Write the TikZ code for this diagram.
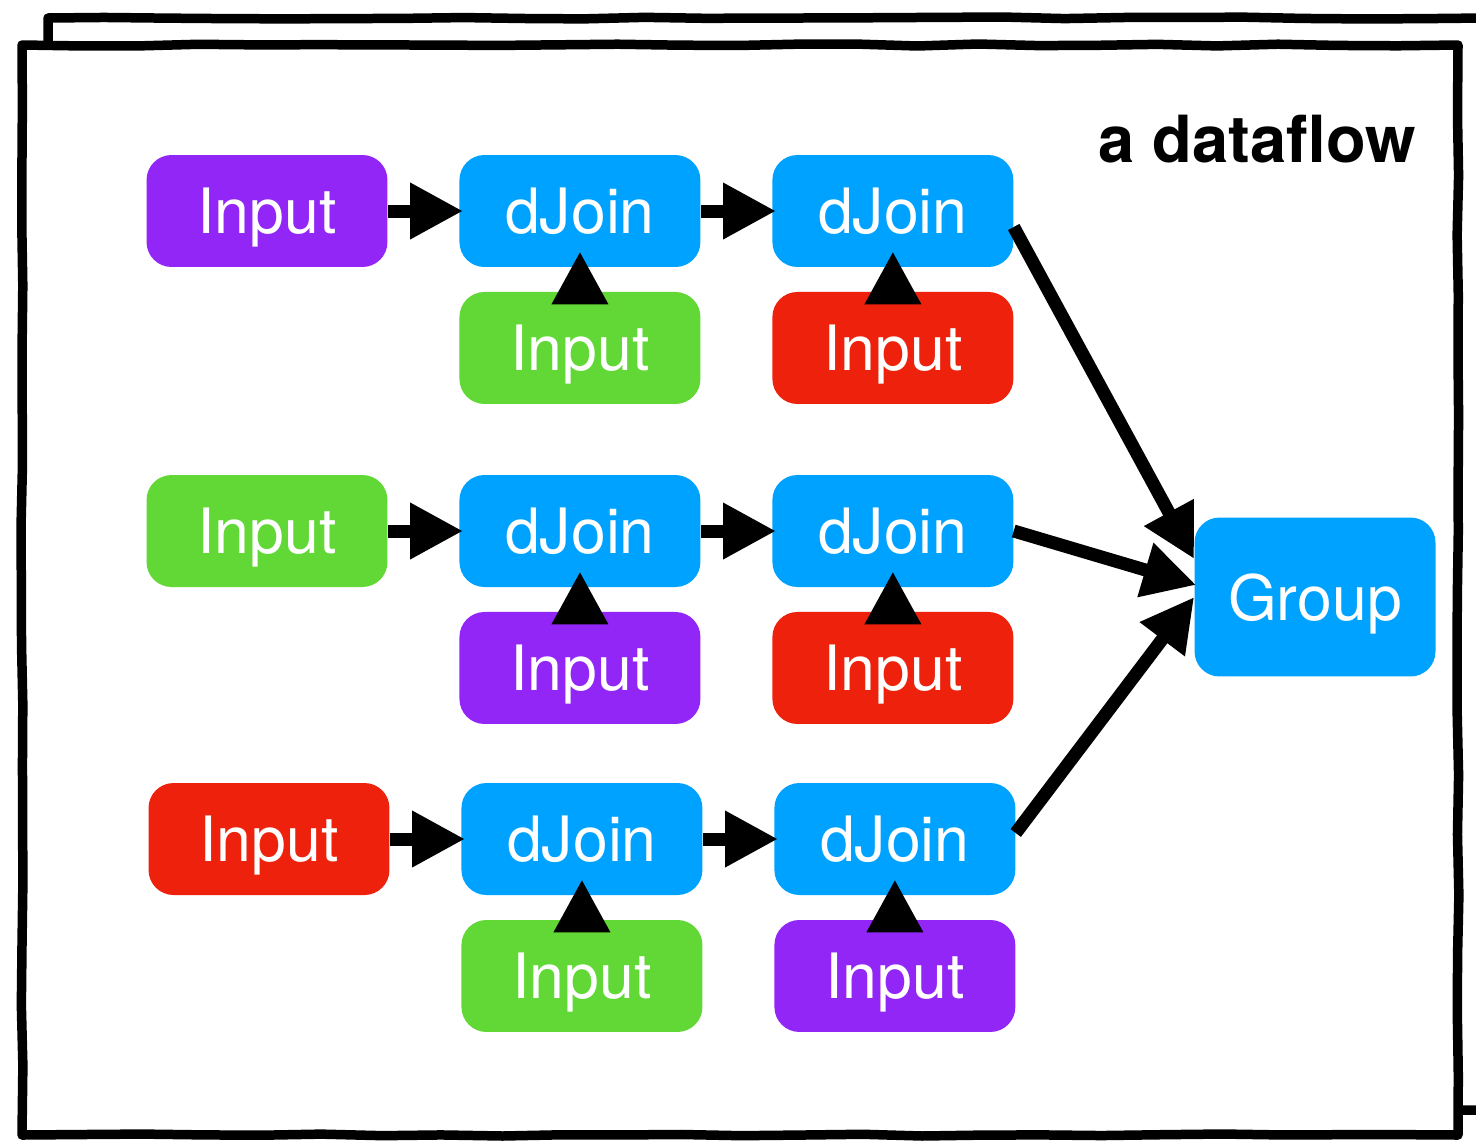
\documentclass[tikz,border=0pt]{standalone}
\usepackage{fontspec}
\setmainfont{TeX Gyre Heros}
\usetikzlibrary{arrows.meta,positioning,decorations.pathmorphing}

\definecolor{kpurple}{HTML}{9226F7}
\definecolor{kblue}{HTML}{00A2FF}
\definecolor{kgreen}{HTML}{61D836}
\definecolor{kred}{HTML}{EE220C}

\begin{document}
\begin{tikzpicture}[x=0.02cm,y=-0.02cm,>={Triangle[length=1.06cm,width=1.06cm]},node distance=6.26cm]
\tikzstyle{box}=[rectangle,rounded corners=0.5cm,minimum width=4.82cm,minimum height=2.24cm,inner sep=0pt,text depth=0pt,text=white,font=\fontsize{35.6}{40}\selectfont]
\tikzstyle{flow}=[->,line width=0.26cm]
\tikzstyle{frame}=[line width=0.19cm,line join=round,decorate,decoration={random steps,segment length=1.2cm,amplitude=0.02cm}]
\pgfmathsetseed{7}
\path[use as bounding box] (0,0) rectangle (1476,1140);
% sketchy frames
\begin{scope}
\clip (0,0) rectangle (1476,1140);
\draw[frame] (48,18) rectangle (1484,1110);
\end{scope}
\draw[frame,fill=white] (22,45) rectangle (1458,1135);
\node[anchor=base east,font=\bfseries\fontsize{37}{40}\selectfont] (title) at (1422,162) {a dataflow};
% first row
\node[box,fill=kpurple] (in1) at (267,211) {Input};
\node[box,fill=kblue] (dj11) [right of=in1] {dJoin};
\node[box,fill=kblue] (dj12) [right of=dj11] {dJoin};
\node[box,fill=kgreen] (in11) [below of=dj11,node distance=2.74cm] {Input};
\node[box,fill=kred] (in12) [below of=dj12,node distance=2.74cm] {Input};
% second row
\node[box,fill=kgreen] (in2) at (267,531) {Input};
\node[box,fill=kblue] (dj21) [right of=in2] {dJoin};
\node[box,fill=kblue] (dj22) [right of=dj21] {dJoin};
\node[box,fill=kpurple] (in21) [below of=dj21,node distance=2.74cm] {Input};
\node[box,fill=kred] (in22) [below of=dj22,node distance=2.74cm] {Input};
% third row
\node[box,fill=kred] (in3) at (269,839) {Input};
\node[box,fill=kblue] (dj31) [right of=in3] {dJoin};
\node[box,fill=kblue] (dj32) [right of=dj31] {dJoin};
\node[box,fill=kgreen] (in31) [below of=dj31,node distance=2.74cm] {Input};
\node[box,fill=kpurple] (in32) [below of=dj32,node distance=2.74cm] {Input};
\node[box,fill=kblue,minimum height=3.18cm] (grp) at (1315,597) {Group};
% arrows
\draw[flow,shorten >=-0.08cm] (in1) -- (dj11);
\draw[flow,shorten >=-0.08cm] (dj11) -- (dj12);
\draw[flow,shorten >=-0.08cm] (in2) -- (dj21);
\draw[flow,shorten >=-0.08cm] (dj21) -- (dj22);
\draw[flow,shorten >=-0.08cm] (in3) -- (dj31);
\draw[flow,shorten >=-0.08cm] (dj31) -- (dj32);
\draw[flow,shorten <=-0.24cm,shorten >=-0.32cm] (in11) -- (dj11);
\draw[flow,shorten <=-0.24cm,shorten >=-0.32cm] (in12) -- (dj12);
\draw[flow,shorten <=-0.24cm,shorten >=-0.32cm] (in21) -- (dj21);
\draw[flow,shorten <=-0.24cm,shorten >=-0.32cm] (in22) -- (dj22);
\draw[flow,shorten <=-0.24cm,shorten >=-0.32cm] (in31) -- (dj31);
\draw[flow,shorten <=-0.24cm,shorten >=-0.32cm] (in32) -- (dj32);
\draw[flow] ([yshift=-0.32cm]dj12.east) -- ([yshift=0.76cm]grp.west);
\draw[flow] (dj22.east) -- ([yshift=0.24cm,xshift=0.04cm]grp.west);
\draw[flow] ([yshift=0.12cm]dj32.east) -- (grp.west);
\end{tikzpicture}
\end{document}
